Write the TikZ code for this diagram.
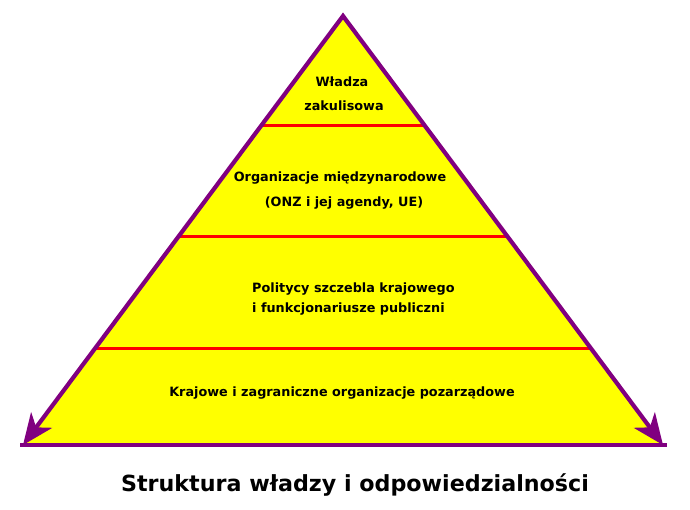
\documentclass[tikz,border=0pt]{standalone}
\usepackage{fontspec}
\setmainfont{DejaVu Sans}
\usetikzlibrary{arrows.meta}
\usetikzlibrary{calc}
\definecolor{pyrpurple}{RGB}{128,0,128}
\definecolor{pyryellow}{RGB}{255,255,0}
\definecolor{pyrred}{RGB}{255,0,0}
\tikzset{
  edge/.style={pyrpurple, line width=4.2pt},
  level/.style={pyrred, line width=3pt},
  lab/.style={font=\bfseries\fontsize{12.8}{15}\selectfont, inner sep=0pt}
}

\begin{document}
\begin{tikzpicture}[x=1pt,y=-1pt]
\useasboundingbox (0,0) rectangle (690,510);

\coordinate (v1) at (343,16);
\coordinate (v2) at (23,445);
\coordinate (v3) at (663,445);
\coordinate (v4) at ($(v1)!0.255!(v2)$);
\coordinate (v5) at ($(v1)!0.255!(v3)$);
\coordinate (v6) at ($(v1)!0.515!(v2)$);
\coordinate (v7) at ($(v1)!0.515!(v3)$);
\coordinate (v8) at ($(v1)!0.775!(v2)$);
\coordinate (v9) at ($(v1)!0.775!(v3)$);
\coordinate (v10) at (20,445);
\coordinate (v11) at (667,445);

\fill [pyryellow] (v1) -- (v2) -- (v3) -- cycle;
\draw [level] (v4) -- (v5);
\draw [level] (v6) -- (v7);
\draw [level] (v8) -- (v9);
\draw [edge] (v10) -- (v11);
\draw [edge, line join=miter, {Stealth[length=31pt,width=26pt,inset=9pt]}-{Stealth[length=31pt,width=26pt,inset=9pt]}] (v2) -- (v1) -- (v3);

\node [lab] (t1) at (342,82) {Władza};
\node [lab] (t2) at (344,106) {zakulisowa};
\node [lab] (t3) at (340,178) {Organizacje międzynarodowe};
\node [lab] (t4) at (344,203) {(ONZ i jej agendy, UE)};
\node [lab, anchor=west] (t5) at (252,289) {Politycy szczebla krajowego};
\node [lab, anchor=west] (t6) at (252,309) {i funkcjonariusze publiczni};
\node [lab] (t7) at (342,393) {Krajowe i zagraniczne organizacje pozarządowe};
\node [lab, font=\bfseries\fontsize{22.2}{26}\selectfont] (t8) at (355,485) {Struktura władzy i odpowiedzialności};
\end{tikzpicture}
\end{document}
